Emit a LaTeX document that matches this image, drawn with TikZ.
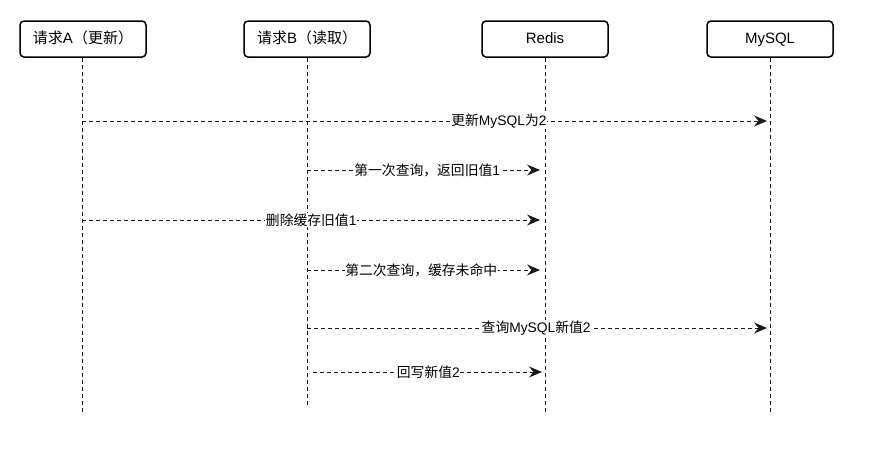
\documentclass[tikz,border=0pt]{standalone}
\usepackage{fontspec}
\setmainfont{Liberation Sans}
\newfontfamily\cjk{Noto Sans CJK SC}
\usetikzlibrary{arrows.meta}
\begin{document}
\begin{tikzpicture}[x=1pt,y=-1pt,
  actor/.style={draw=black,line width=1.5pt,rounded corners=4pt,minimum width=126pt,minimum height=36pt,inner sep=0pt,text height=11pt,text depth=3pt,font=\fontsize{15}{18}\selectfont},
  life/.style={draw=black!90,line width=1pt,dash pattern=on 4pt off 3pt},
  msg/.style={draw=black!90,line width=1pt,dash pattern=on 4pt off 3pt,-{Stealth[length=13pt,width=11pt,inset=4.5pt]},shorten >=3pt},
  lbl/.style={fill=white,inner sep=0.5pt,font=\fontsize{13.8}{16}\selectfont,text=black}]
\useasboundingbox (0,0) rectangle (874,456);
\node[actor] (a) at (83,39) {{\cjk 请求}A{\cjk （更新）}};
\node[actor] (b) at (307,39) {{\cjk 请求}B{\cjk （读取）}};
\node[actor] (r) at (545,39) {Redis};
\node[actor] (m) at (770,39) {MySQL};
\coordinate (ae) at (82,413);
\coordinate (be) at (307,405);
\coordinate (re) at (545,413);
\coordinate (me) at (770,413);
\draw[life] (a.south -| ae) -- (ae);
\draw[life] (b.south -| be) -- (be);
\draw[life] (r.south -| re) -- (re);
\draw[life] (m.south -| me) -- (me);
\draw[msg] (ae |- 0,121) -- node[lbl,pos=0.606] {{\cjk 更新}MySQL{\cjk 为}2} (me |- 0,121);
\draw[msg,shorten >=5pt] (be |- 0,170) -- node[lbl,pos=0.505] {{\cjk 第一次查询，返回旧值}1} (re |- 0,170);
\draw[msg,shorten >=5pt] (ae |- 0,220) -- node[lbl,pos=0.495] {{\cjk 删除缓存旧值}1} (re |- 0,220);
\draw[msg,shorten >=5pt] (be |- 0,270) -- node[lbl,pos=0.48] {{\cjk 第二次查询，缓存未命中}} (re |- 0,270);
\draw[msg] (be |- 0,328) -- node[lbl,pos=0.495] {{\cjk 查询}MySQL{\cjk 新值}2} (me |- 0,328);
\draw[msg,shorten <=6pt] (be |- 0,372) -- node[lbl,pos=0.51] {{\cjk 回写新值}2} (re |- 0,372);
\end{tikzpicture}
\end{document}
